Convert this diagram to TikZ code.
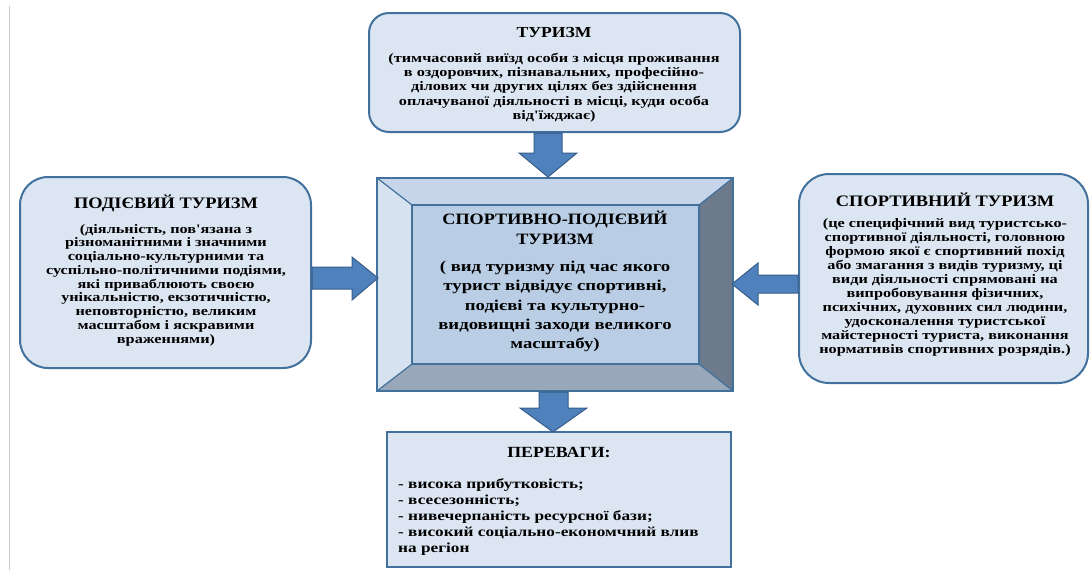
\documentclass[tikz,border=0pt]{standalone}
\usepackage{fontspec}
\setmainfont{Liberation Serif}
\newfontfamily\bodyfam[FakeStretch=1.25]{Liberation Serif}
\newfontfamily\ttlfam[FakeStretch=1.15]{Liberation Serif}
\definecolor{boxfill}{HTML}{DCE6F2}
\definecolor{boxline}{HTML}{41719C}
\definecolor{arrfill}{HTML}{4F81BD}
\definecolor{arrline}{HTML}{385D8A}
\definecolor{bvtop}{HTML}{C6D5EA}
\definecolor{bvleft}{HTML}{D7E2F0}
\definecolor{bvright}{HTML}{6C7A8C}
\definecolor{bvbot}{HTML}{98A8BA}
\definecolor{bvin}{HTML}{B9CDE5}
\tikzset{
  roundbox/.style={fill=boxfill, draw=boxline, line width=2pt},
  squarebox/.style={fill=boxfill, draw=boxline, line width=2pt},
  blockarrow/.style={fill=arrfill, draw=arrline, line width=1pt, line join=miter},
  face/.style={draw=boxline, line width=1.2pt, line join=miter},
  ttl/.style={font=\ttlfam\bfseries\fontsize{16}{18}\selectfont, inner sep=0pt, align=center},
  body/.style={font=\bodyfam\bfseries\fontsize{13}{13.75}\selectfont, inner sep=0pt, align=center},
}
\begin{document}
\begin{tikzpicture}[x=1pt,y=-1pt]
\useasboundingbox (0,0) rectangle (1091,570);
\fill[white] (0,0) rectangle (1091,570);
% left gray rule
\draw[gray!40, line width=1.5pt] (9.5,6) -- (9.5,570);

% boxes
\draw[roundbox, rounded corners=20pt] (369,13) rectangle (740,132);
\draw[roundbox, rounded corners=28pt] (20,177) rectangle (311,368);
\draw[roundbox, rounded corners=30pt] (799,174) rectangle (1088,383);
\draw[squarebox] (387,432) rectangle (731,567);

% bevel box
\coordinate (o1) at (377,178); \coordinate (o2) at (733,178);
\coordinate (o3) at (733,391); \coordinate (o4) at (377,391);
\coordinate (i1) at (412,205); \coordinate (i2) at (699,205);
\coordinate (i3) at (699,364); \coordinate (i4) at (412,364);
\fill[bvtop] (o1) -- (o2) -- (i2) -- (i1) -- cycle;
\fill[bvright] (o2) -- (o3) -- (i3) -- (i2) -- cycle;
\fill[bvbot] (o3) -- (o4) -- (i4) -- (i3) -- cycle;
\fill[bvleft] (o4) -- (o1) -- (i1) -- (i4) -- cycle;
\fill[bvin] (i1) rectangle (i3);
\draw[face] (o1) -- (i1) (o2) -- (i2) (o3) -- (i3) (o4) -- (i4);
\draw[face] (i1) rectangle (i3);
\draw[boxline, line width=2pt] (o1) rectangle (o3);

% arrows
\draw[blockarrow] (534,133) -- (562,133) -- (562,153) -- (577,153) -- (548,177) -- (519,153) -- (534,153) -- cycle;
\draw[blockarrow] (539,392) -- (568,392) -- (568,408) -- (587,408) -- (553,432) -- (520,408) -- (539,408) -- cycle;
\draw[blockarrow] (312,267) -- (352,267) -- (352,257) -- (378,278) -- (352,300) -- (352,289) -- (312,289) -- cycle;
\draw[blockarrow] (798,275) -- (758,275) -- (758,263) -- (732,284) -- (758,305) -- (758,293) -- (798,293) -- cycle;

% texts
\node[ttl, font=\ttlfam\bfseries\fontsize{15.3}{18}\selectfont] (t1) at (554,33) {ТУРИЗМ};
\node[body, font=\bodyfam\bfseries\fontsize{13}{14.3}\selectfont] (b1) at (554,87.5) {(тимчасовий виїзд особи з місця проживання\\в оздоровчих, пізнавальних, професійно-\\ділових чи других цілях без здійснення\\оплачуваної діяльності в місці, куди особа\\від'їжджає)};

\node[ttl] (t2) at (166,203) {ПОДІЄВИЙ ТУРИЗМ};
\node[body] (b2) at (166,285) {(діяльність, пов'язана з\\різноманітними і значними\\соціально-культурними та\\суспільно-політичними подіями,\\які приваблюють своєю\\унікальністю, екзотичністю,\\неповторністю, великим\\масштабом і яскравими\\враженнями)};

\node[ttl] (t3) at (945,200) {СПОРТИВНИЙ ТУРИЗМ};
\node[body, font=\bodyfam\bfseries\fontsize{13}{14}\selectfont] (b3) at (945,287) {(це специфічний вид туристсько-\\спортивної діяльності, головною\\формою якої є спортивний похід\\або змагання з видів туризму, ці\\види діяльності спрямовані на\\випробовування фізичних,\\психічних, духовних сил людини,\\удосконалення туристської\\майстерності туриста, виконання\\нормативів спортивних розрядів.)};

\node[ttl, font=\ttlfam\bfseries\fontsize{15.8}{20}\selectfont] (t4) at (555,228) {СПОРТИВНО-ПОДІЄВИЙ\\ТУРИЗМ};
\node[body, font=\bodyfam\bfseries\fontsize{15}{19.3}\selectfont] (b4) at (555,306.5) {( вид туризму під час якого\\турист відвідує спортивні,\\подієві та культурно-\\видовищні заходи великого\\масштабу)};

\node[ttl, font=\ttlfam\bfseries\fontsize{15.5}{17}\selectfont] (t5) at (559,452) {ПЕРЕВАГИ:};
\node[body, align=left, anchor=west, font=\bodyfam\bfseries\fontsize{13.8}{16}\selectfont] (b5) at (398,517) {- висока прибутковість;\\- всесезонність;\\- нивечерпаність ресурсної бази;\\- високий соціально-економчний влив\\на регіон};
\end{tikzpicture}
\end{document}
